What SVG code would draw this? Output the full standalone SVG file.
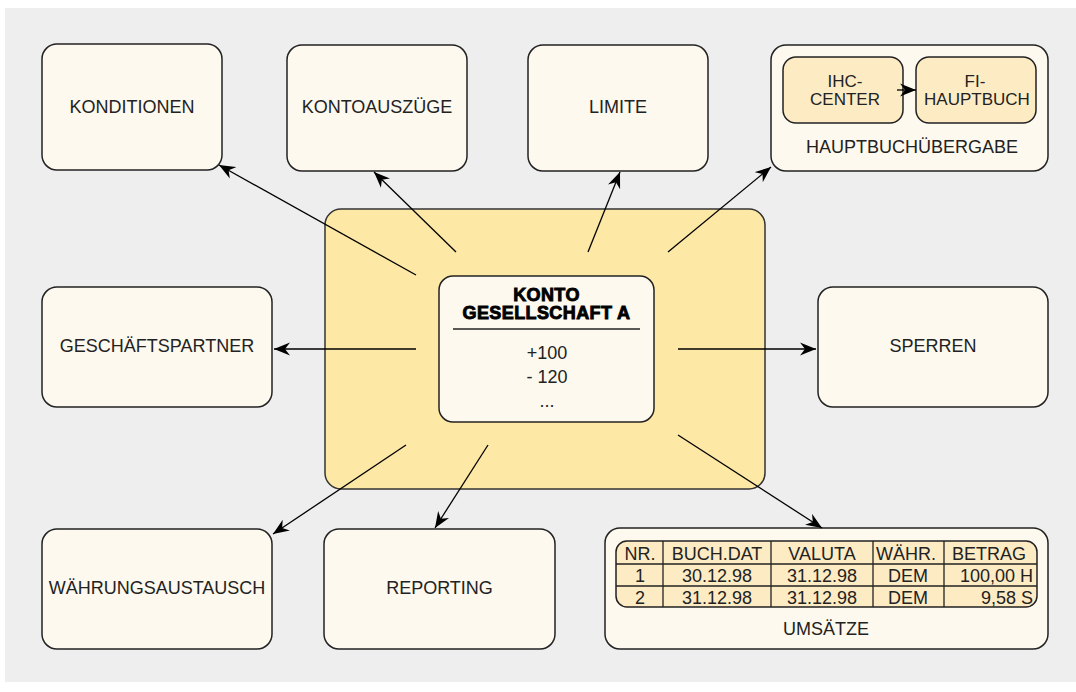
<svg xmlns="http://www.w3.org/2000/svg" width="1076" height="692" viewBox="0 0 1076 692">
<defs>
<style>
.bg{fill:#eeeeee}
.node{fill:#fdf9ee;stroke:#222;stroke-width:1.5}
.sub{fill:#fdebc4;stroke:#222;stroke-width:1.5}
.main{fill:#fde8a5;stroke:#333;stroke-width:1.5}
.t{font-family:"Liberation Sans",Arial,sans-serif;font-size:18px;fill:#222;text-anchor:middle}
.s{font-size:17px}
.h{font-family:"Liberation Sans",Arial,sans-serif;font-size:18px;font-weight:bold;fill:#000;stroke:#000;stroke-width:0.9;letter-spacing:0.4px;text-anchor:middle}
.r{text-anchor:end}
.c{stroke:#000;stroke-width:1.3;fill:none;marker-end:url(#ah)}
.grid{stroke:#222;stroke-width:1.3;fill:none}
</style>
<marker id="ah" viewBox="-16 -7 17 14" refX="0" refY="0" markerWidth="17" markerHeight="14" markerUnits="userSpaceOnUse" orient="auto">
<path d="M0,0 L-16,-6.5 L-11,0 L-16,6.5 Z" fill="#000"/>
</marker>
</defs>
<rect class="bg" x="5" y="8" width="1071" height="674"/>

<g id="center">
<rect class="main" x="325" y="209" width="440" height="280" rx="16"/>
<rect class="node" x="439" y="276" width="215" height="146" rx="14"/>
<text class="h" x="546.5" y="301">KONTO</text>
<text class="h" x="546.5" y="319">GESELLSCHAFT A</text>
<line x1="453" y1="329" x2="640" y2="329" stroke="#222" stroke-width="1.3"/>
<text class="t" x="547" y="359">+100</text>
<text class="t" x="547" y="383">- 120</text>
<text class="t" x="547" y="407">...</text>
</g>

<g id="konditionen">
<rect class="node" x="42" y="44" width="180" height="126" rx="15"/>
<text class="t" x="132" y="113">KONDITIONEN</text>
</g>
<g id="kontoauszuege">
<rect class="node" x="287" y="45" width="180" height="126" rx="15"/>
<text class="t" x="377" y="113">KONTOAUSZÜGE</text>
</g>
<g id="limite">
<rect class="node" x="528" y="45" width="180" height="126" rx="15"/>
<text class="t" x="618" y="113">LIMITE</text>
</g>
<g id="hauptbuchuebergabe">
<rect class="node" x="771" y="45" width="277" height="126" rx="15"/>
<rect class="sub" x="783" y="57" width="120" height="66" rx="13"/>
<text class="t s" x="845" y="87">IHC-</text>
<text class="t s" x="845" y="105">CENTER</text>
<rect class="sub" x="916" y="57" width="120" height="66" rx="13"/>
<text class="t s" x="975" y="87">FI-</text>
<text class="t s" x="977" y="105">HAUPTBUCH</text>
<line class="c" x1="897" y1="90" x2="916" y2="90"/>
<text class="t" x="912" y="153">HAUPTBUCHÜBERGABE</text>
</g>
<g id="geschaeftspartner">
<rect class="node" x="42" y="287" width="230" height="120" rx="15"/>
<text class="t" x="157" y="352">GESCHÄFTSPARTNER</text>
</g>
<g id="sperren">
<rect class="node" x="818" y="287" width="230" height="120" rx="15"/>
<text class="t" x="933" y="352">SPERREN</text>
</g>
<g id="waehrungsaustausch">
<rect class="node" x="42" y="529" width="230" height="120" rx="15"/>
<text class="t" x="157" y="594">WÄHRUNGSAUSTAUSCH</text>
</g>
<g id="reporting">
<rect class="node" x="324" y="529" width="231" height="120" rx="15"/>
<text class="t" x="439.5" y="594">REPORTING</text>
</g>
<g id="umsaetze">
<rect class="node" x="605" y="528" width="443" height="121" rx="15"/>
<rect class="sub" x="616" y="541" width="421" height="66" rx="11"/>
<line class="grid" x1="616" y1="564" x2="1037" y2="564"/>
<line class="grid" x1="616" y1="586" x2="1037" y2="586"/>
<line class="grid" x1="663" y1="541" x2="663" y2="607"/>
<line class="grid" x1="771" y1="541" x2="771" y2="607"/>
<line class="grid" x1="873" y1="541" x2="873" y2="607"/>
<line class="grid" x1="944" y1="541" x2="944" y2="607"/>
<text class="t" x="640" y="560">NR.</text>
<text class="t" x="717" y="560">BUCH.DAT</text>
<text class="t" x="822" y="560">VALUTA</text>
<text class="t" x="906" y="560">WÄHR.</text>
<text class="t" x="989" y="560">BETRAG</text>
<text class="t" x="640" y="582">1</text>
<text class="t" x="717" y="582">30.12.98</text>
<text class="t" x="822" y="582">31.12.98</text>
<text class="t" x="908" y="582">DEM</text>
<text class="t r" x="1033" y="582">100,00 H</text>
<text class="t" x="640" y="604">2</text>
<text class="t" x="717" y="604">31.12.98</text>
<text class="t" x="822" y="604">31.12.98</text>
<text class="t" x="908" y="604">DEM</text>
<text class="t r" x="1033" y="604">9,58 S</text>
<text class="t" x="826" y="635">UMSÄTZE</text>
</g>

<g id="connectors">
<line class="c" x1="416" y1="275" x2="219" y2="165"/>
<line class="c" x1="456" y1="252" x2="374" y2="172"/>
<line class="c" x1="588" y1="252" x2="620" y2="172"/>
<line class="c" x1="668" y1="252" x2="771" y2="167"/>
<line class="c" x1="416" y1="349" x2="274" y2="349"/>
<line class="c" x1="678" y1="349" x2="816" y2="349"/>
<line class="c" x1="406" y1="445" x2="273" y2="534"/>
<line class="c" x1="488" y1="445" x2="435" y2="528"/>
<line class="c" x1="678" y1="435" x2="822" y2="528"/>
</g>
</svg>
